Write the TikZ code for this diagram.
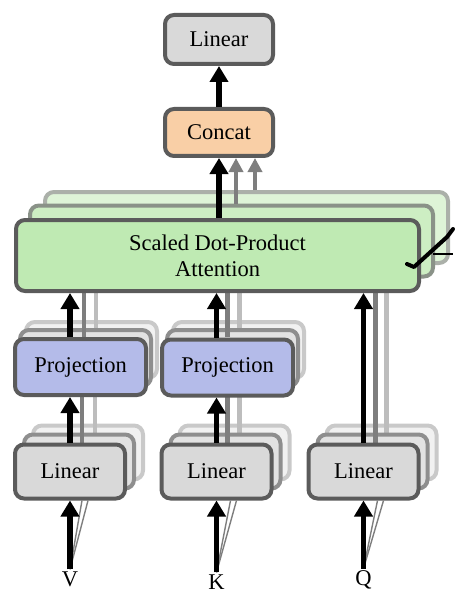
\documentclass[tikz,border=0pt]{standalone}
\usepackage{fontspec}
\setmainfont{Liberation Serif}
\usetikzlibrary{arrows.meta}
\definecolor{bd}{HTML}{5B5B5B}
\definecolor{linf}{HTML}{D9D9D9}
\definecolor{conf}{HTML}{F9CFA6}
\definecolor{prjf}{HTML}{B4BBE9}
\definecolor{attf}{HTML}{BFEAB3}
\definecolor{cAb}{HTML}{C9C9C9}
\definecolor{cAf}{HTML}{F1F1F1}
\definecolor{cBb}{HTML}{8E8E8E}
\definecolor{cBf}{HTML}{E2E2E2}
\definecolor{gAb}{HTML}{ABB0A9}
\definecolor{gAf}{HTML}{DEF4D7}
\definecolor{gBb}{HTML}{8A9288}
\definecolor{gBf}{HTML}{CDEEC3}
\definecolor{barlight}{HTML}{BDBDBD}
\definecolor{bardark}{HTML}{7E7E7E}
\begin{document}
\begin{tikzpicture}[x=1pt,y=-1pt,
  font=\fontsize{22.5}{26}\selectfont,
  box/.style={draw=bd, line width=4pt, rounded corners=9pt, inner sep=0pt, align=center},
  linbox/.style={box, fill=linf, minimum width=110pt, minimum height=54pt},
  prjbox/.style={box, fill=prjf, minimum width=131pt, minimum height=56pt},
  attbox/.style={box, fill=attf, minimum width=403pt, minimum height=71pt},
  backA/.style={draw=cAb, fill=cAf},
  backB/.style={draw=cBb, fill=cBf},
  gbackA/.style={draw=gAb, fill=gAf},
  gbackB/.style={draw=gBb, fill=gBf},
  blk/.style={line width=5.5pt, -{Triangle[width=18pt,length=16pt]}},
  gry/.style={line width=4.5pt, draw=bardark, -{Triangle[width=14pt,length=14pt]}},
  barA/.style={line width=4.5pt, draw=barlight},
  barB/.style={line width=4.5pt, draw=bardark},
  fan/.style={line width=1.4pt, draw=bardark},
  lab/.style={inner sep=2pt}
]
\useasboundingbox (0,0) rectangle (473,604);

% ---- farthest copies ----
\node[attbox, gbackA] (att2) at (246.5,227.5) {};
\node[prjbox, backA] (projV2) at (91.5,350) {};
\node[prjbox, backA] (projK2) at (238.5,350) {};
\node[linbox, backA] (linV2) at (88,452.5) {};
\node[linbox, backA] (linK2) at (234.5,452.5) {};
\node[linbox, backA] (linQ2) at (381.5,452.5) {};

\path (70,471.5) coordinate (cV) (216.5,471.5) coordinate (cK) (363.5,471.5) coordinate (cQ);

% ---- light bars ----
\draw[barA] ([xshift=25pt]70,444) -- ([xshift=25pt]70,397);
\draw[barA] ([xshift=26pt]70,337) -- ([xshift=26pt]70,293);
\draw[barA] ([xshift=23pt]216.5,444) -- ([xshift=23pt]216.5,397);
\draw[barA] ([xshift=23pt]216.5,337) -- ([xshift=23pt]216.5,293);
\draw[barA] ([xshift=23pt]363.5,444) -- ([xshift=23pt]363.5,293);

% ---- middle copies ----
\node[attbox, gbackB] (att1) at (231.5,241) {};
\node[prjbox, backB] (projV1) at (85.5,358) {};
\node[prjbox, backB] (projK1) at (232.5,358) {};
\node[linbox, backB] (linV1) at (79,461.5) {};
\node[linbox, backB] (linK1) at (225.5,461.5) {};
\node[linbox, backB] (linQ1) at (372.5,461.5) {};

% ---- dark bars ----
\draw[barB] ([xshift=12pt]70,444) -- ([xshift=12pt]70,397);
\draw[barB] ([xshift=14pt]70,337) -- ([xshift=14pt]70,293);
\draw[barB] ([xshift=11pt]216.5,444) -- ([xshift=11pt]216.5,397);
\draw[barB] ([xshift=11pt]216.5,337) -- ([xshift=11pt]216.5,293);
\draw[barB] ([xshift=12pt]363.5,444) -- ([xshift=12pt]363.5,293);

% ---- front nodes ----
\node[linbox, minimum width=108pt, minimum height=49pt] (lintop) at (219,39.5) {Linear};
\node[box, fill=conf, minimum width=108pt, minimum height=47pt] (concat) at (219,132.5) {Concat};
\node[attbox] (att) at (217.5,255.5) {Scaled Dot-Product\\Attention};
\node[prjbox] (projV) at (80.5,367) {Projection};
\node[prjbox] (projK) at (227.5,367.5) {Projection};
\node[linbox] (linV) at (cV) {Linear};
\node[linbox] (linK) at (cK) {Linear};
\node[linbox] (linQ) at (cQ) {Linear};

% ---- input labels ----
\node[lab] (V) at (70,579) {V};
\node[lab] (K) at (216.5,582) {K};
\node[lab] (Q) at (363.5,580) {Q};

% ---- fans ----
\draw[fan] (V.north) -- ([xshift=12pt]linV.south);
\draw[fan] (V.north) -- ([xshift=18pt]linV.south);
\draw[fan] (K.north) -- ([xshift=14pt]linK.south);
\draw[fan] (K.north) -- ([xshift=20pt]linK.south);
\draw[fan] (Q.north) -- ([xshift=14pt]linQ.south);
\draw[fan] (Q.north) -- ([xshift=20pt]linQ.south);

% ---- black arrows ----
\draw[blk] (V.north) -- (linV.south);
\draw[blk] (K.north) -- (linK.south);
\draw[blk] (Q.north) -- (linQ.south);
\draw[blk] (linV.north) -- (linV.north |- projV.south);
\draw[blk] (linK.north) -- (linK.north |- projK.south);
\draw[blk] (linV.north |- projV.north) -- (linV.north |- att.south);
\draw[blk] (linK.north |- projK.north) -- (linK.north |- att.south);
\draw[blk] (linQ.north) -- (linQ.north |- att.south);
\draw[blk] (concat.south |- att.north) -- (concat.south);
\draw[blk] (concat.north) -- (lintop.south);

% ---- gray arrows to concat ----
\draw[gry] ([xshift=17pt]concat.south |- att1.north) -- ([xshift=17pt]concat.south);
\draw[gry] ([xshift=36pt]concat.south |- att2.north) -- ([xshift=36pt]concat.south);

% ---- stack mark on the right ----
\draw[line width=4pt, line cap=round, line join=round]
  (407,264) -- (414,267) -- (447,237) -- (453,229);
\draw[line width=1.5pt] (433,254) -- (453,254);
\end{tikzpicture}
\end{document}
